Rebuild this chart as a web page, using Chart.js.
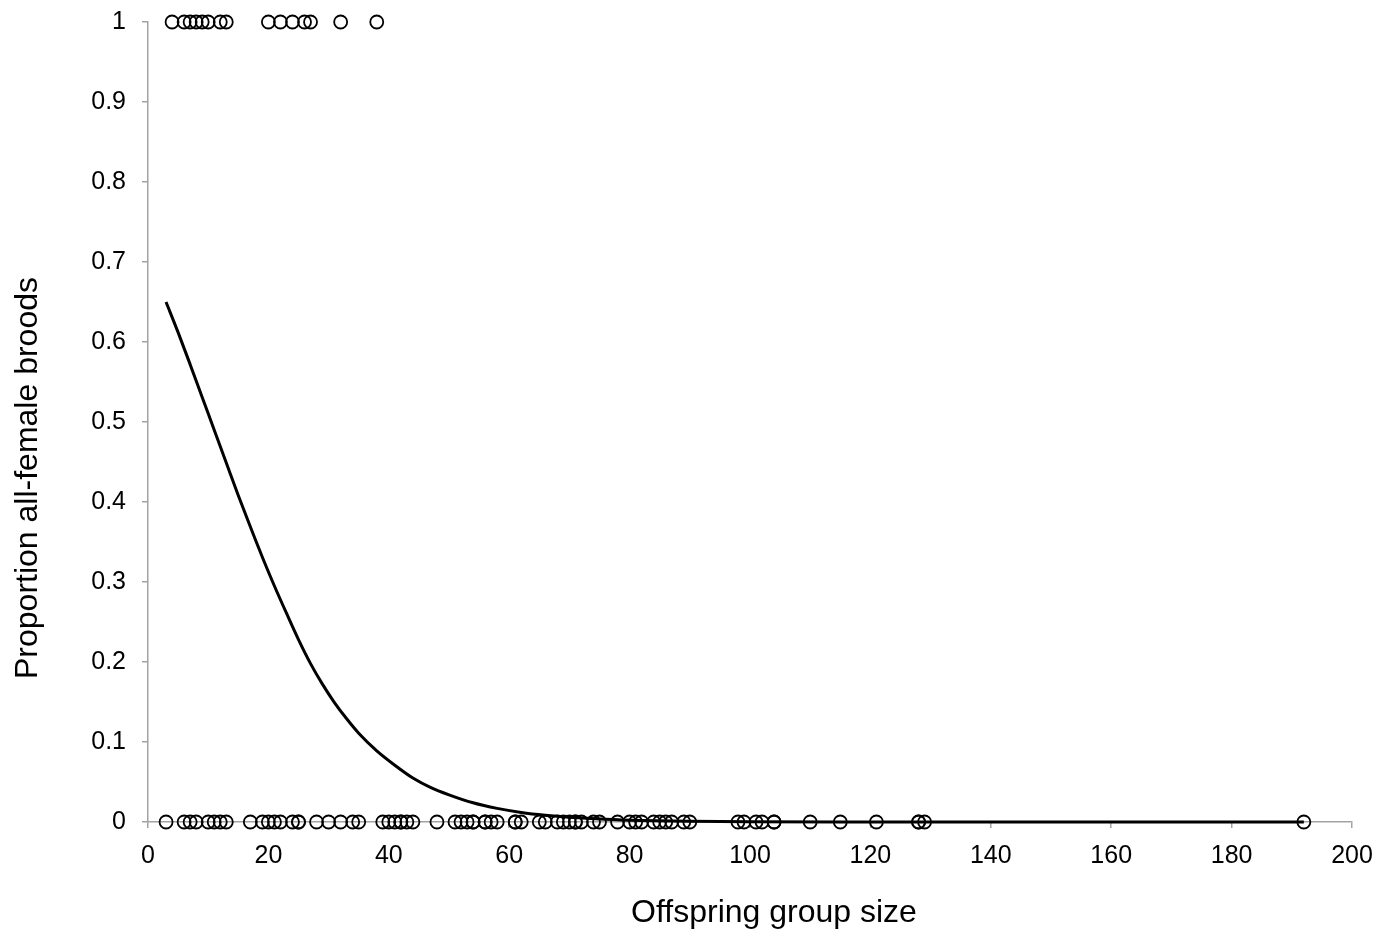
<!DOCTYPE html>
<html><head><meta charset="utf-8">
<script src="https://cdn.jsdelivr.net/npm/chart.js@4/dist/chart.umd.min.js"></script>
<style>html,body{margin:0;padding:0;background:#fff;}#wrap{width:1383px;height:937px;}</style>
</head><body><div id="wrap"><canvas id="c" width="1383" height="937"></canvas></div>
<script>
// Broods that were all-female (proportion = 1)
const allFemaleSizes = [4,6,7,8,9,10,12,13,20,22,24,26,27,32,38];
// Broods that were not all-female (proportion = 0)
const mixedSizes = [3,6,7,8,10,11,12,13,17,19,20,21,22,24,25,25,28,30,32,34,35,39,40,41,42,42,43,44,48,51,52,53,54,54,56,56,57,58,61,61,62,65,66,68,69,70,71,71,72,74,75,78,80,81,82,84,85,86,87,89,90,98,99,101,102,104,104,110,115,121,128,128,129,192];
// Fitted curve
const curveX = [3,5,7,9,11,13,15,17,19,21,23,25,27,29,31,33,35,38,41,44,47,50,54,58,62,66,70,76,82,90,100,115,140,192];
const curveY = [0.65,0.612,0.572,0.531,0.49,0.449,0.408,0.369,0.331,0.295,0.261,0.228,0.198,0.172,0.149,0.129,0.111,0.089,0.071,0.055,0.043,0.034,0.024,0.017,0.012,0.0085,0.006,0.0035,0.002,0.001,0.0004,0.0001,0,0];
const xTicks = [0,20,40,60,80,100,120,140,160,180,200];
const yTicks = ['0','0.1','0.2','0.3','0.4','0.5','0.6','0.7','0.8','0.9','1'];
const xTitle = 'Offspring group size';
const yTitle = 'Proportion all-female broods';

const font = "'Liberation Sans', Arial, sans-serif";
const axisGrey = '#a3a3a3';

const titlePlugin = {
  id: 'axisTitles',
  afterDraw(chart) {
    const ctx = chart.ctx, a = chart.chartArea;
    ctx.save();
    ctx.fillStyle = '#000';
    ctx.font = "32px " + font;
    ctx.textAlign = 'center';
    ctx.textBaseline = 'middle';
    ctx.fillText(xTitle, (a.left + a.right) / 2 + 24, 913);
    ctx.translate(28, (a.top + a.bottom) / 2 + 56);
    ctx.rotate(-Math.PI / 2);
    ctx.fillText(yTitle, 0, 0);
    ctx.restore();
  }
};

new Chart(document.getElementById('c'), {
  type: 'scatter',
  data: {
    datasets: [
      {
        label: 'Fit',
        data: curveX.map((x,i)=>({x, y: curveY[i]})),
        showLine: true,
        borderColor: '#000',
        borderWidth: 3,
        pointRadius: 0,
        cubicInterpolationMode: 'monotone',
        fill: false,
        clip: false,
        order: 2
      },
      {
        label: 'All-female',
        data: allFemaleSizes.map(x=>({x, y: 1})),
        pointRadius: 6.5,
        pointBorderWidth: 1.8,
        pointBorderColor: '#000',
        pointBackgroundColor: 'rgba(0,0,0,0)',
        clip: false,
        order: 1
      },
      {
        label: 'Mixed',
        data: mixedSizes.map(x=>({x, y: 0})),
        pointRadius: 6.5,
        pointBorderWidth: 1.8,
        pointBorderColor: '#000',
        pointBackgroundColor: 'rgba(0,0,0,0)',
        clip: false,
        order: 1
      }
    ]
  },
  plugins: [titlePlugin],
  options: {
    responsive: false,
    animation: false,
    events: [],
    layout: { padding: { left: 0, right: 31, top: 22, bottom: 0 } },
    plugins: { legend: { display: false }, tooltip: { enabled: false } },
    scales: {
      x: {
        type: 'linear', min: 0, max: 200,
        afterBuildTicks: s => { s.ticks = xTicks.map(v=>({value:v})); },
        afterFit: s => { s.height = 115; s.paddingLeft = 0; s.paddingRight = 0; },
        grid: { drawOnChartArea: false, drawTicks: true, tickLength: 6, color: axisGrey, lineWidth: 1.5 },
        border: { display: true, color: axisGrey, width: 1.5 },
        ticks: { color: '#000', font: { family: font, size: 25 }, padding: 13, maxRotation: 0 },
        title: { display: false }
      },
      y: {
        type: 'linear', min: 0, max: 1,
        afterBuildTicks: s => { s.ticks = yTicks.map(v=>({value: parseFloat(v)})); },
        afterFit: s => { s.width = 148; s.paddingTop = 0; s.paddingBottom = 0; },
        grid: { drawOnChartArea: false, drawTicks: true, tickLength: 6, color: axisGrey, lineWidth: 1.5 },
        border: { display: true, color: axisGrey, width: 1.5 },
        ticks: { color: '#000', font: { family: font, size: 25 }, padding: 16, callback: (v,i) => yTicks[i] },
        title: { display: false }
      }
    }
  }
});
</script></body></html>
